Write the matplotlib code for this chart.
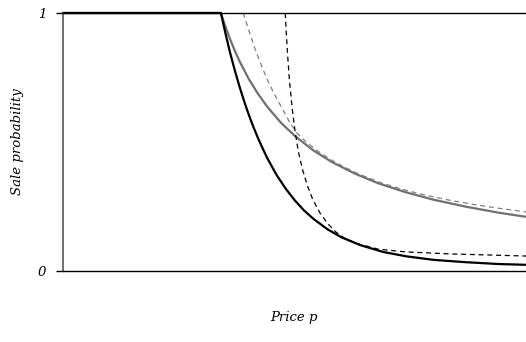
import numpy as np
import matplotlib.pyplot as plt

# valores (preço em 0..10, probabilidade 0..1)
p_preto = [0, 3.41, 3.51, 3.61, 3.71, 3.81, 3.91, 4.01, 4.11, 4.21, 4.31, 4.41, 4.61, 4.81, 5.01,
           5.21, 5.41, 5.71, 6.01, 6.41, 6.91, 7.41, 8.01, 8.71, 9.41, 10]
prob_preto = [1.0, 1.0, 0.920, 0.845, 0.778, 0.716, 0.659, 0.607, 0.559, 0.516, 0.476, 0.438, 0.373,
              0.319, 0.273, 0.234, 0.202, 0.162, 0.131, 0.101, 0.074, 0.057, 0.043, 0.034, 0.027, 0.024]

p_cinza = [0, 3.41, 3.51, 3.61, 3.71, 3.81, 4.01, 4.21, 4.41, 4.71, 5.01, 5.41, 5.81, 6.31, 6.81,
           7.41, 8.01, 8.71, 9.41, 10]
prob_cinza = [1.0, 1.0, 0.946, 0.898, 0.854, 0.814, 0.745, 0.687, 0.637, 0.574, 0.523, 0.467, 0.422,
              0.377, 0.340, 0.305, 0.276, 0.249, 0.226, 0.210]

p_cinza_tr = [3.89, 4.00, 4.15, 4.30, 4.43, 4.58, 4.75, 4.90, 5.05, 5.25, 5.50, 5.77, 6.05, 6.40,
              6.85, 7.30, 7.80, 8.36, 9.00, 9.50, 10]
prob_cinza_tr = [1.0, 0.94, 0.86, 0.79, 0.735, 0.68, 0.625, 0.575, 0.535, 0.500, 0.465, 0.433, 0.405,
                 0.375, 0.343, 0.318, 0.295, 0.274, 0.254, 0.241, 0.229]

p_preto_tr = [4.80, 4.82, 4.85, 4.89, 4.95, 5.01, 5.08, 5.17, 5.28, 5.40, 5.55, 5.72, 5.90, 6.10,
              6.40, 6.80, 7.40, 8.40, 10]
prob_preto_tr = [1.0, 0.93, 0.84, 0.74, 0.63, 0.545, 0.465, 0.395, 0.330, 0.275, 0.225, 0.183, 0.150,
                 0.125, 0.104, 0.085, 0.074, 0.066, 0.058]

fig = plt.figure(figsize=(5.26, 3.42), dpi=100)
ax = fig.add_axes([0.1198, 0.2076, 0.8802, 0.7544])

ax.plot(p_cinza, prob_cinza, color='#707070', lw=1.6, clip_on=False, solid_joinstyle='round')
ax.plot(p_cinza_tr, prob_cinza_tr, color='#808080', lw=0.9, ls=(0, (4, 3)), clip_on=False)
ax.plot(p_preto, prob_preto, color='black', lw=1.6, clip_on=False, solid_joinstyle='round')
ax.plot(p_preto_tr, prob_preto_tr, color='black', lw=0.9, ls=(0, (4, 3)), clip_on=False)

ax.set_xlim(0, 10)
ax.set_ylim(0, 1)

fonte = {'family': 'DejaVu Serif', 'style': 'italic'}
ax.set_xticks([])
ax.set_yticks([0, 1])
ax.set_yticklabels(['0', '1'], fontdict=dict(fonte, size=9.5))
ax.tick_params(axis='y', length=5, width=1, pad=7)

ax.spines['right'].set_visible(False)
ax.spines['left'].set_color('#555555')
ax.spines['left'].set_linewidth(1.2)
ax.spines['bottom'].set_linewidth(1.0)
ax.spines['top'].set_linewidth(1.0)

fig.text(294 / 526, 1 - 318 / 342, 'Price p', ha='center', va='center', **fonte, size=9.5)
fig.text(18 / 526, 1 - 142 / 342, 'Sale probability', ha='center', va='center', rotation=90,
         **fonte, size=9.5)

fig.savefig('out.png', dpi=100)
